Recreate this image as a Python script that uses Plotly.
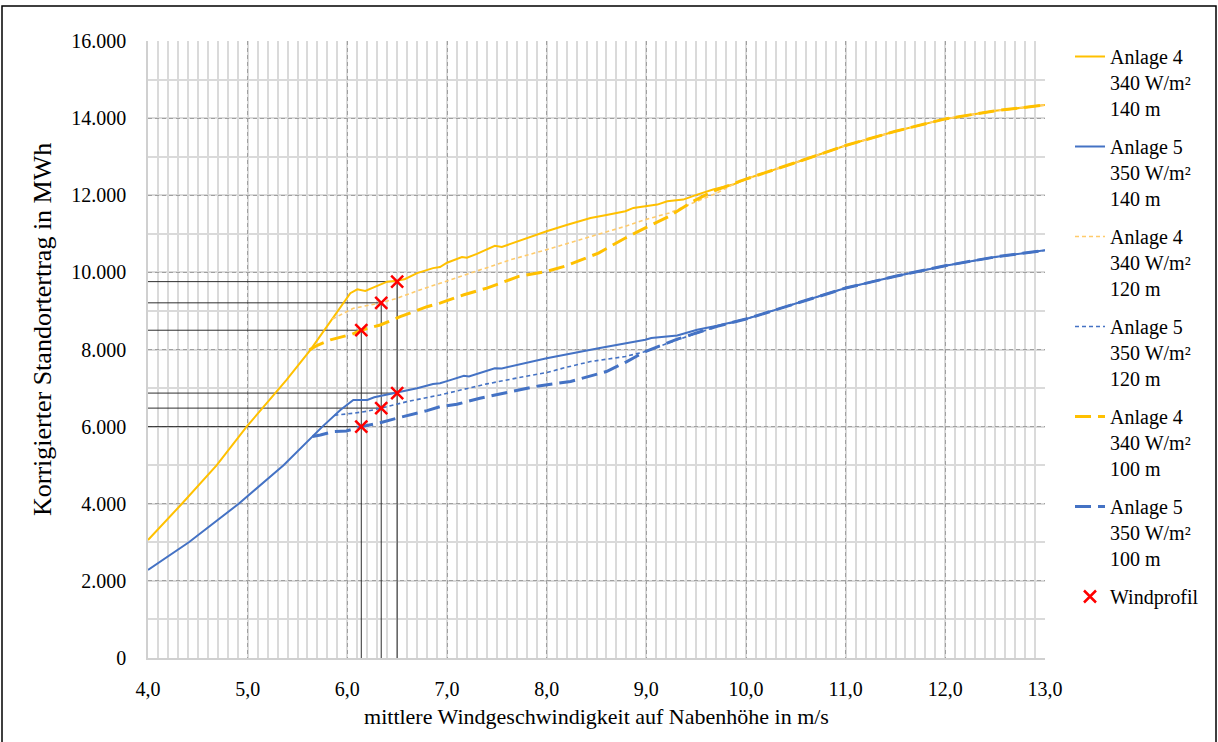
import plotly.graph_objects as go

# --- Anlage 4 (340 W/m²) ---------------------------------------------------
a4_140_v = [4.0, 4.34, 4.69, 4.99, 5.39, 5.63, 6.03, 6.10, 6.18, 6.25, 6.40, 6.50,
            6.58, 6.70, 6.80, 6.86, 6.93, 7.00, 7.15, 7.20, 7.30, 7.48, 7.55, 7.70,
            8.00, 8.20, 8.44, 8.60, 8.79, 8.87, 9.00, 9.11, 9.21, 9.37, 9.51, 9.67,
            9.87, 10.0, 10.5, 11.0, 11.5, 12.0, 12.5, 13.0]
a4_140_e = [3060, 4000, 5000, 6000, 7210, 7990, 9460, 9560, 9520, 9600, 9760, 9780,
            9830, 9980, 10060, 10110, 10140, 10250, 10400, 10380, 10480, 10690, 10660, 10800,
            11065, 11230, 11410, 11490, 11584, 11671, 11720, 11758, 11844, 11887, 12017, 12147,
            12277, 12420, 12850, 13290, 13660, 13980, 14190, 14340]

a4_120_v = [5.85, 6.06, 6.20, 6.34, 6.50, 6.70, 6.93, 7.10, 7.33, 7.50, 7.64, 8.00,
            8.20, 8.44, 8.79, 8.99, 9.23, 9.51, 9.71, 9.87, 10.0, 10.5, 11.0, 11.5,
            12.0, 12.5, 13.0]
a4_120_e = [8790, 9068, 9140, 9210, 9330, 9520, 9717, 9860, 10069, 10200, 10329, 10589,
            10740, 10935, 11195, 11368, 11541, 11844, 12060, 12277, 12420, 12850, 13290, 13660,
            13980, 14190, 14340]

a4_100_v = [5.62, 5.70, 5.83, 5.96, 6.05, 6.14, 6.33, 6.53, 6.80, 6.93, 7.17, 7.40,
            7.72, 8.00, 8.20, 8.52, 8.79, 8.99, 9.23, 9.47, 9.67, 9.94, 10.0, 10.5,
            11.0, 11.5, 12.0, 12.5, 13.0]
a4_100_e = [7990, 8110, 8250, 8330, 8400, 8500, 8636, 8851, 9110, 9203, 9420, 9593,
            9896, 10026, 10173, 10502, 10892, 11152, 11455, 11844, 12104, 12364, 12420, 12850,
            13290, 13660, 13980, 14190, 14340]

# --- Anlage 5 (350 W/m²) ---------------------------------------------------
a5_140_v = [4.0, 4.41, 4.91, 5.36, 5.75, 5.93, 6.06, 6.13, 6.20, 6.27, 6.40, 6.50,
            6.60, 6.70, 6.86, 6.93, 7.00, 7.17, 7.22, 7.48, 7.55, 8.00, 8.52, 8.99,
            9.05, 9.31, 9.51, 9.71, 10.0, 10.5, 11.0, 11.5, 12.0, 12.5, 13.0]
a5_140_e = [2282, 3000, 4000, 5000, 6000, 6432, 6691, 6700, 6690, 6760, 6830, 6870,
            6940, 6994, 7106, 7126, 7180, 7316, 7300, 7515, 7510, 7775, 8035, 8251,
            8300, 8364, 8510, 8615, 8790, 9200, 9593, 9900, 10173, 10400, 10571]

a5_120_v = [5.87, 5.92, 6.06, 6.20, 6.34, 6.60, 6.93, 7.20, 7.40, 7.70, 8.00, 8.20,
            8.44, 8.79, 8.99, 9.31, 9.71, 10.0, 10.5, 11.0, 11.5, 12.0, 12.5, 13.0]
a5_120_e = [6290, 6310, 6346, 6400, 6480, 6649, 6822, 6990, 7108, 7260, 7403, 7540,
            7688, 7818, 7948, 8251, 8597, 8790, 9200, 9593, 9900, 10173, 10400, 10571]

a5_100_v = [5.65, 5.73, 5.86, 5.99, 6.14, 6.33, 6.53, 6.80, 6.93, 7.10, 7.33, 7.60,
            7.92, 8.24, 8.45, 8.60, 8.80, 8.99, 9.31, 9.71, 10.0, 10.5, 11.0, 11.5,
            12.0, 12.5, 13.0]
a5_100_e = [5745, 5783, 5870, 5887, 6000, 6102, 6241, 6414, 6519, 6580, 6736, 6880,
            7056, 7169, 7320, 7429, 7680, 7948, 8268, 8600, 8790, 9200, 9593, 9900,
            10173, 10400, 10571]

# --- Windprofil: hub-height wind speed and yield for 100 / 120 / 140 m ------
wp_v = [6.14, 6.34, 6.50, 6.14, 6.34, 6.50]
wp_e = [8500, 9210, 9760, 6000, 6480, 6870]

# --- axis ticks ------------------------------------------------------------
x_tick_vals = [4, 5, 6, 7, 8, 9, 10, 11, 12, 13]
x_tick_text = ["4,0", "5,0", "6,0", "7,0", "8,0", "9,0", "10,0", "11,0", "12,0", "13,0"]
y_tick_vals = [0, 2000, 4000, 6000, 8000, 10000, 12000, 14000, 16000]
y_tick_text = ["0", "2.000", "4.000", "6.000", "8.000", "10.000", "12.000", "14.000", "16.000"]

YELLOW = "#FFC000"
YELLOW_LIGHT = "#FFCB6B"
BLUE = "#4472C4"
FONT = "Liberation Serif"

fig = go.Figure()

# guide lines from each wind-profile point to the axes
guide_x, guide_y = [], []
x_min = x_tick_vals[0]
for v, e in zip(wp_v, wp_e):
    guide_x += [x_min, v, None]
    guide_y += [e, e, None]
for v in sorted(set(wp_v)):
    top = max(e for vv, e in zip(wp_v, wp_e) if vv == v)
    guide_x += [v, v, None]
    guide_y += [0, top, None]
fig.add_trace(go.Scatter(x=guide_x, y=guide_y, mode="lines",
                         line=dict(color="#2E2E2E", width=1),
                         showlegend=False, hoverinfo="skip"))

series = [
    ("Anlage 4<br>340 W/m²<br>140 m", a4_140_v, a4_140_e, YELLOW, 2, "solid"),
    ("Anlage 5<br>350 W/m²<br>140 m", a5_140_v, a5_140_e, BLUE, 2, "solid"),
    ("Anlage 4<br>340 W/m²<br>120 m", a4_120_v, a4_120_e, YELLOW_LIGHT, 1.6, "4px,3px"),
    ("Anlage 5<br>350 W/m²<br>120 m", a5_120_v, a5_120_e, BLUE, 1.6, "4px,3px"),
    ("Anlage 4<br>340 W/m²<br>100 m", a4_100_v, a4_100_e, YELLOW, 3, "16px,7px"),
    ("Anlage 5<br>350 W/m²<br>100 m", a5_100_v, a5_100_e, BLUE, 3, "16px,7px"),
]
for i, (name, v, e, col, w, dash) in enumerate(series):
    fig.add_trace(go.Scatter(x=v, y=e, mode="lines", name=name,
                             legendgroup=f"g{i}",
                             line=dict(color=col, width=w, dash=dash)))

fig.add_trace(go.Scatter(x=wp_v, y=wp_e, mode="markers", name="Windprofil",
                         legendgroup="wp",
                         marker=dict(symbol="x-thin", size=12, color="#FF0000",
                                     line=dict(color="#FF0000", width=2.5))))

W, H = 1218, 742
L, R, T, B = 148, 173, 41, 84
pw, ph = W - L - R, H - T - B

def px_x(p):
    return (p - L) / pw

def px_y(p):
    return (H - B - p) / ph

fig.update_layout(
    width=W, height=H,
    margin=dict(l=L, r=R, t=T, b=B),
    paper_bgcolor="white", plot_bgcolor="white",
    font=dict(family=FONT, size=20, color="#000000"),
    showlegend=True,
    legend=dict(x=px_x(1070), y=px_y(37), xanchor="left", yanchor="top",
                font=dict(family=FONT, size=20), valign="top",
                tracegroupgap=9, traceorder="grouped", maxheight=740,
                bgcolor="rgba(0,0,0,0)", itemwidth=30),
    xaxis=dict(range=[4, 13], tickmode="array", tickvals=x_tick_vals, ticktext=x_tick_text,
               showgrid=True, gridcolor="#A0A0A0", griddash="4px,3px", gridwidth=1,
               minor=dict(tick0=4, dtick=0.1, showgrid=True, gridcolor="#DADADA",
                          gridwidth=1.5, griddash="solid"),
               showline=True, linecolor="#D0D0D0", linewidth=1.5, zeroline=False,
               ticks="", ticklabelstandoff=12,
               tickfont=dict(family=FONT, size=20),
               title=dict(text="mittlere Windgeschwindigkeit auf Nabenhöhe in m/s",
                          font=dict(family=FONT, size=22), standoff=10)),
    yaxis=dict(range=[0, 16000], tickmode="array", tickvals=y_tick_vals, ticktext=y_tick_text,
               showgrid=True, gridcolor="#A0A0A0", griddash="4px,3px", gridwidth=1,
               minor=dict(tick0=0, dtick=1000, showgrid=True, gridcolor="#DADADA",
                          gridwidth=1.5, griddash="solid"),
               showline=True, linecolor="#D0D0D0", linewidth=1.5, zeroline=False,
               ticks="", ticklabelstandoff=16,
               tickfont=dict(family=FONT, size=20)),
    annotations=[dict(text="Korrigierter Standortertrag in MWh", textangle=-90,
                      xref="paper", yref="paper", x=px_x(42), y=px_y(330),
                      xanchor="center", yanchor="middle", showarrow=False,
                      font=dict(family=FONT, size=26))],
    shapes=[dict(type="rect", xref="paper", yref="paper",
                 x0=px_x(2), x1=px_x(1216), y0=px_y(745), y1=px_y(6),
                 line=dict(color="#000000", width=1.5), layer="above")],
)

fig.write_html("out.html")
